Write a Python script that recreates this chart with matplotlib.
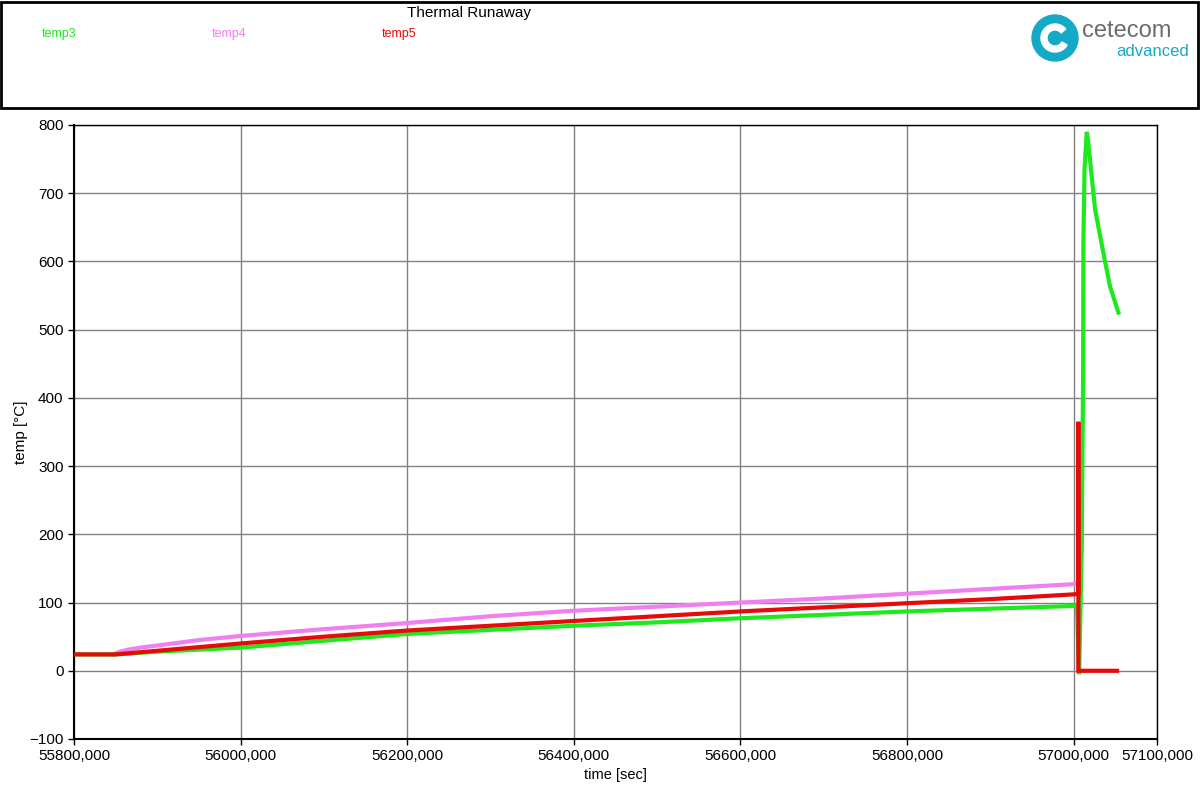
import numpy as np
import matplotlib
matplotlib.use("Agg")
import matplotlib.pyplot as plt
from matplotlib.patches import Rectangle, Circle, Wedge
from matplotlib.ticker import FuncFormatter

plt.rcParams["font.family"] = ["Liberation Sans", "DejaVu Sans"]

# --- Data ---
t3 = [55800, 55850, 55900, 56000, 56100, 56200, 56300, 56400, 56500, 56600, 56700,
      56800, 56900, 57000, 57004, 57006.5, 57009.7, 57010.2, 57011.3, 57011.6,
      57013, 57015.7, 57017, 57025.7, 57035.7, 57043.7, 57053.7]
temp3 = [24, 24, 28, 34, 44, 54, 60, 66, 71, 77, 82,
         87, 91, 95, 96, -5, 182, 270, 430, 625,
         735, 790, 780, 676, 612, 563, 525]

t4 = [55847, 55855, 55865, 55880, 55900, 55950, 56000, 56100, 56200, 56300, 56400, 56500,
      56600, 56700, 56800, 56900, 57000, 57005]
temp4 = [24, 28, 31, 34, 37, 45, 51, 61, 70, 80, 88, 94,
         100, 106, 113, 120, 127, 129]

t5 = [55800, 55850, 56000, 56100, 56200, 56300, 56400, 56500, 56600, 56700, 56800,
      56900, 57000, 57005.6, 57005.6, 57005.6, 57052]
temp5 = [24, 24, 40, 50, 59, 66, 73, 80, 87, 93, 99,
         105, 112, 113, 365, 0, 0]

series = [("temp3", t3, temp3, "#1ee81e"),
          ("temp4", t4, temp4, "#f080f0"),
          ("temp5", t5, temp5, "#e60a0a")]

xticks = [55800, 56000, 56200, 56400, 56600, 56800, 57000, 57100]
yticks = list(range(-100, 801, 100))

fig = plt.figure(figsize=(12, 7.92), dpi=100)
ax = fig.add_axes([74 / 1200, 1 - 739 / 792, 1083 / 1200, 614 / 792])

# draw order: pink, green, red (red on top)
for idx in (1, 0, 2):
    name, t, v, c = series[idx]
    ax.plot(t, v, color=c, lw=3, solid_joinstyle="miter", zorder=3)

ax.set_xlim(55800, 57100)
ax.set_ylim(-100, 800)
ax.set_xticks(xticks)
ax.set_yticks(yticks)
ax.xaxis.set_major_formatter(FuncFormatter(lambda v, p: f"{v:.0f},000"))
ax.grid(True, color="#808080", lw=1)
ax.set_axisbelow(True)
for s in ax.spines.values():
    s.set_color("black")
    s.set_linewidth(1)
ax.spines["left"].set_linewidth(1.5)
ax.spines["bottom"].set_linewidth(1.5)
ax.tick_params(labelsize=11, length=4, width=1, colors="black")
ax.set_xlabel("time [sec]", fontsize=10.5, labelpad=3)
ax.set_ylabel("temp [°C]", fontsize=11, labelpad=1)

# --- Header box ---
fig.patches.append(Rectangle((1 / 1200, 1 - 108 / 792), 1197 / 1200, 106 / 792,
                             transform=fig.transFigure, fill=False,
                             edgecolor="black", lw=2))
fig.text(469 / 1200, 1 - 13 / 792, "Thermal Runaway", ha="center", va="center", fontsize=11)
for (name, t, v, c), xp in zip(series, [42, 212, 382]):
    fig.text(xp / 1200, 1 - 34 / 792, name, ha="left", va="center", fontsize=9, color=c)

# --- Logo ---
lax = fig.add_axes([1025 / 1200, 1 - 70 / 792, 170 / 1200, 60 / 792])
lax.set_xlim(0, 170)
lax.set_ylim(0, 60)
lax.set_aspect("equal")
lax.axis("off")
teal = "#15a9c8"
lax.add_patch(Circle((30, 32), 23, color=teal))
lax.add_patch(Wedge((30, 32), 14, 40, 330, width=6, color="white"))
lax.text(57, 39, "cetecom", fontsize=17, color="#6b6b6b", va="center", ha="left")
lax.text(164, 18, "advanced", fontsize=12, color=teal, va="center", ha="right")

fig.savefig("out.png", dpi=100)
